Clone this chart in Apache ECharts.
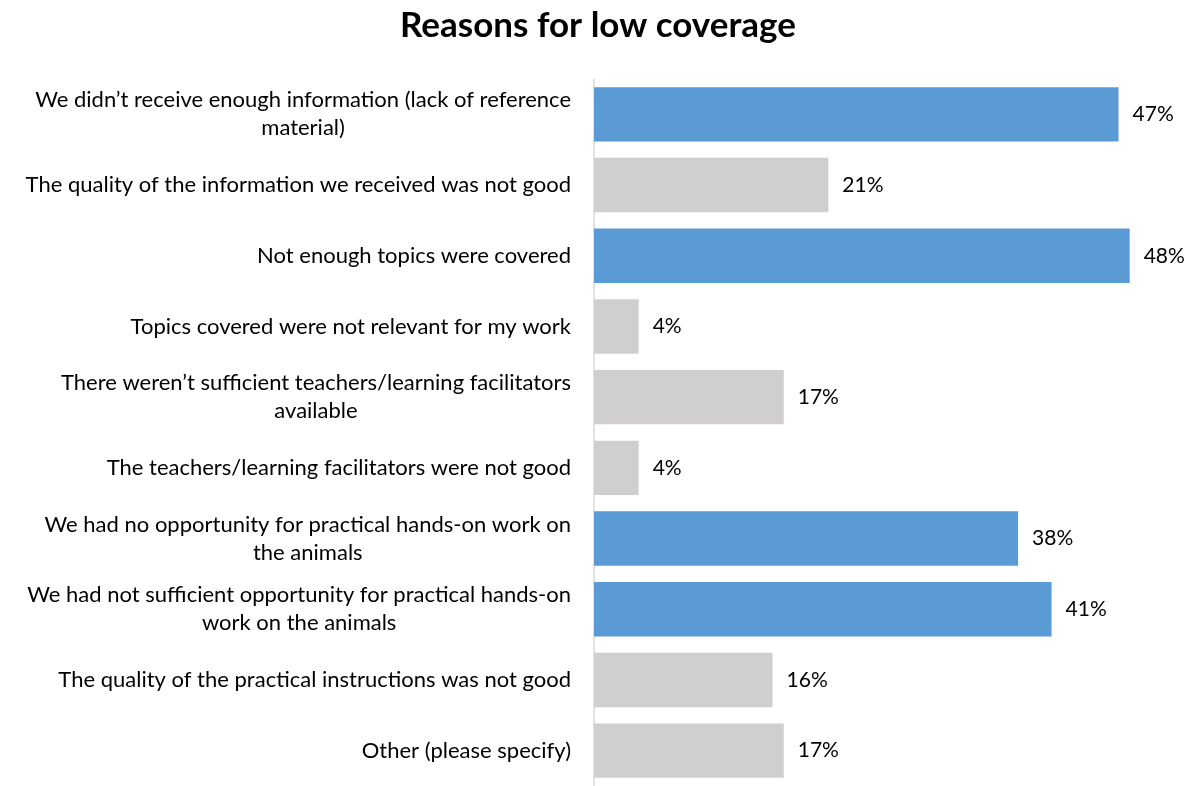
<!DOCTYPE html>
<html>
<head>
<meta charset="utf-8">
<script src="https://cdn.jsdelivr.net/npm/echarts@6/dist/echarts.min.js"></script>
<style>
  html, body { margin: 0; padding: 0; background: #fff; }
  #chart { width: 1204px; height: 786px; }
</style>
</head>
<body>
<div id="chart"></div>
<script>
// Survey answers, top to bottom; "\n" marks where a long label wraps
const categories = [
  "We didn\u2019t receive enough information (lack of reference\nmaterial)",
  "The quality of the information we received was not good",
  "Not enough topics were covered",
  "Topics covered were not relevant for my work",
  "There weren\u2019t sufficient teachers/learning facilitators\navailable",
  "The teachers/learning facilitators were not good",
  "We had no opportunity for practical hands-on work on\nthe animals",
  "We had not sufficient opportunity for practical hands-on\nwork on the animals",
  "The quality of the practical instructions was not good",
  "Other (please specify)"
];
// Share of respondents (%)
const shares = [47, 21, 48, 4, 17, 4, 38, 41, 16, 17];
// Highlighted answers are drawn in blue, the rest in grey
const highlighted = [true, false, true, false, false, false, true, true, false, false];

const BLUE = '#5B9BD5';
const GREY = '#D0CECE';
const FONT = 'Lato, "Open Sans", sans-serif';

const chart = echarts.init(document.getElementById('chart'));

chart.setOption({
  animation: false,
  title: {
    text: 'Reasons for low coverage',
    left: 395,
    top: 3,
    textStyle: { fontFamily: FONT, fontWeight: 'bold', fontSize: 35, color: '#000' }
  },
  grid: { left: 594, right: 52, top: 79, height: 713, containLabel: false },
  xAxis: {
    type: 'value',
    min: 0,
    max: 50,
    show: false
  },
  yAxis: {
    type: 'category',
    inverse: true,
    data: categories,
    axisLine: { show: true, lineStyle: { color: '#D9D9D9', width: 1.5 } },
    axisTick: { show: false },
    splitLine: { show: false },
    axisLabel: {
      margin: 23,
      fontFamily: FONT,
      fontSize: 22,
      color: '#000',
      lineHeight: 28,
      formatter: function (v) {
        return v.split('\n').map(function (s) { return '{c|' + s + '}'; }).join('\n');
      },
      rich: {
        c: { align: 'center', fontFamily: FONT, fontSize: 22, color: '#000', lineHeight: 28 }
      }
    }
  },
  series: [{
    type: 'bar',
    data: shares.map(function (v, i) {
      return { value: v, itemStyle: { color: highlighted[i] ? BLUE : GREY } };
    }),
    barCategoryGap: '23%',
    label: {
      show: true,
      position: 'right',
      distance: 14,
      formatter: '{c}%',
      fontFamily: FONT,
      fontSize: 21,
      color: '#000'
    }
  }]
});
</script>
</body>
</html>
